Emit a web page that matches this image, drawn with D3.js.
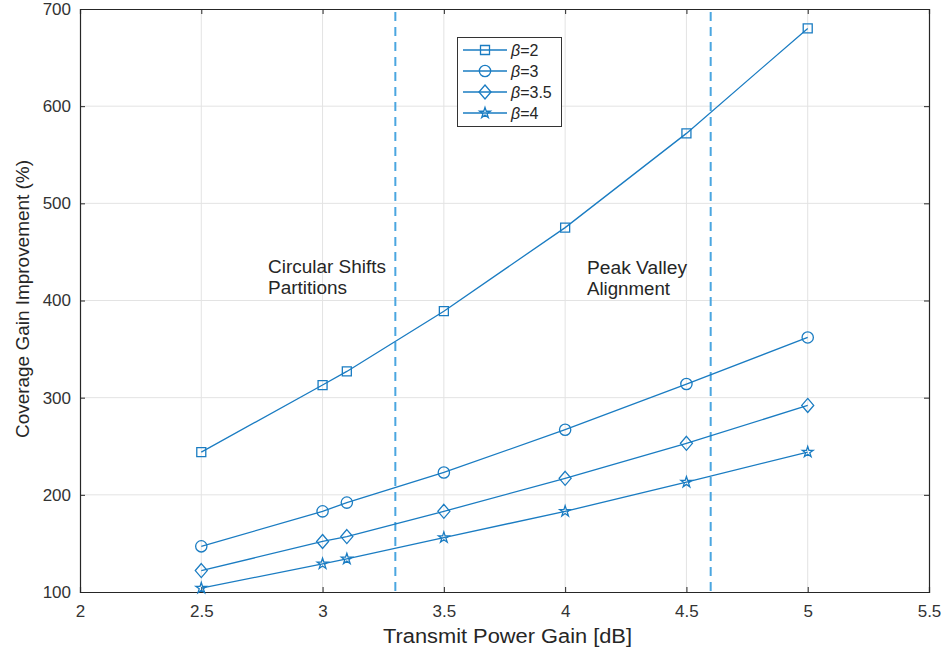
<!DOCTYPE html>
<html>
<head>
<meta charset="utf-8">
<script src="https://cdn.jsdelivr.net/npm/d3@7"></script>
<style>
  html, body { margin: 0; padding: 0; background: #fff; }
  svg { display: block; font-family: "Liberation Sans", Arial, sans-serif; }
</style>
</head>
<body>
<svg id="chart" width="944" height="650"></svg>
<script>
// Transmit power gain samples (dB)
const powerGain = [2.5, 3, 3.1, 3.5, 4, 4.5, 5];
// Coverage gain improvement (%) per path-loss exponent
const beta2   = [244, 313, 327, 389, 475, 572, 680];
const beta3   = [147, 183, 192, 223, 267, 314, 362];
const beta35  = [122, 152, 157, 183, 217, 253, 292];
const beta4   = [104, 129, 134, 156, 183, 213, 244];
const seriesLabels = ["2", "3", "3.5", "4"];
const seriesMarkers = ["square", "circle", "diamond", "star"];
// Region boundaries (dB)
const boundaries = [3.3, 4.6];
const xTicks = [2, 2.5, 3, 3.5, 4, 4.5, 5, 5.5];
const yTicks = [100, 200, 300, 400, 500, 600, 700];

const seriesValues = [beta2, beta3, beta35, beta4];

const svg = d3.select("#chart");
const plotLeft = 80, plotRight = 929, plotTop = 9, plotBottom = 592;
const x = d3.scaleLinear().domain([2, 5.5]).range([plotLeft, plotRight]);
const y = d3.scaleLinear().domain([100, 700]).range([plotBottom, plotTop]);

const lineColor = "#1a7cc2";
const textColor = "#262626";
const axisColor = "#262626";

// grid
const grid = svg.append("g");
grid.selectAll("line.gx").data(xTicks.slice(1, -1)).enter().append("line")
  .attr("x1", d => x(d)).attr("x2", d => x(d)).attr("y1", plotTop).attr("y2", plotBottom)
  .attr("stroke", "#e3e3e3").attr("stroke-width", 1);
grid.selectAll("line.gy").data(yTicks.slice(1, -1)).enter().append("line")
  .attr("y1", d => y(d)).attr("y2", d => y(d)).attr("x1", plotLeft).attr("x2", plotRight)
  .attr("stroke", "#e3e3e3").attr("stroke-width", 1);

// axes (ticks point inward)
const xAxis = svg.append("g").attr("transform", `translate(0,${plotBottom})`)
  .call(d3.axisBottom(x).tickValues(xTicks).tickSize(-5).tickPadding(13).tickFormat(d3.format("")));
const xAxisTop = svg.append("g").attr("transform", `translate(0,${plotTop})`)
  .call(d3.axisTop(x).tickValues(xTicks).tickSize(-5).tickFormat(""));
const yAxis = svg.append("g").attr("transform", `translate(${plotLeft},0)`)
  .call(d3.axisLeft(y).tickValues(yTicks).tickSize(-5).tickPadding(9));
const yAxisRight = svg.append("g").attr("transform", `translate(${plotRight},0)`)
  .call(d3.axisRight(y).tickValues(yTicks).tickSize(-5).tickFormat(""));
[xAxis, xAxisTop, yAxis, yAxisRight].forEach(g => {
  g.select(".domain").attr("stroke", axisColor).attr("stroke-width", 1.2);
  g.selectAll(".tick line").attr("stroke", axisColor).attr("stroke-width", 1);
  g.selectAll(".tick text").attr("fill", "#333").attr("font-size", 17)
    .attr("font-family", "Liberation Sans, Arial, sans-serif");
});

// dashed region boundaries
svg.append("g").selectAll("line").data(boundaries).enter().append("line")
  .attr("x1", d => x(d)).attr("x2", d => x(d)).attr("y1", plotTop + 3).attr("y2", plotBottom)
  .attr("stroke", "#4ba6e0").attr("stroke-width", 2).attr("stroke-dasharray", "9,6");

// markers
function markerPath(kind) {
  if (kind === "square") return "M-4.5,-4.5H4.5V4.5H-4.5Z";
  if (kind === "circle") return d3.symbol(d3.symbolCircle, 100)();
  if (kind === "diamond") return "M0,-7L6,0L0,7L-6,0Z";
  return d3.symbol(d3.symbolStar, 36)();
}

const line = d3.line().x(d => x(d[0])).y(d => y(d[1]));
seriesValues.forEach((vals, i) => {
  const pts = powerGain.map((g, j) => [g, vals[j]]);
  svg.append("path").datum(pts).attr("d", line)
    .attr("fill", "none").attr("stroke", lineColor).attr("stroke-width", 1.3);
  svg.append("g").selectAll("path").data(pts).enter().append("path")
    .attr("d", markerPath(seriesMarkers[i]))
    .attr("transform", d => `translate(${x(d[0])},${y(d[1])})`)
    .attr("fill", "none").attr("stroke", lineColor).attr("stroke-width", 1.3);
});

// annotations
const ann = svg.append("g").attr("fill", textColor).attr("font-size", 17.5)
  .attr("lengthAdjust", "spacingAndGlyphs");
function note(tx, ty, str, len) {
  ann.append("text").attr("x", tx).attr("y", ty)
    .attr("textLength", len).attr("lengthAdjust", "spacingAndGlyphs").text(str);
}
note(268, 273, "Circular Shifts", 118);
note(268, 294, "Partitions", 79);
note(587, 274, "Peak Valley", 100);
note(587, 295, "Alignment", 83);

// legend
const lg = svg.append("g");
lg.append("rect").attr("x", 457.5).attr("y", 37.5).attr("width", 104).attr("height", 89)
  .attr("fill", "#fff").attr("stroke", "#333").attr("stroke-width", 1);
seriesLabels.forEach((lab, i) => {
  const cy = 50 + i * 21;
  lg.append("line").attr("x1", 463).attr("x2", 507).attr("y1", cy).attr("y2", cy)
    .attr("stroke", lineColor).attr("stroke-width", 1.3);
  lg.append("path").attr("d", markerPath(seriesMarkers[i]))
    .attr("transform", `translate(485,${cy})`)
    .attr("fill", "none").attr("stroke", lineColor).attr("stroke-width", 1.3);
  const t = lg.append("text").attr("x", 511).attr("y", cy + 6)
    .attr("font-size", 16).attr("fill", textColor);
  t.append("tspan").attr("font-style", "italic").text("β");
  t.append("tspan").text("=" + lab);
});

// axis titles
svg.append("text").attr("x", 383).attr("y", 643)
  .attr("font-size", 19.5).attr("fill", textColor)
  .attr("textLength", 249).attr("lengthAdjust", "spacingAndGlyphs")
  .text("Transmit Power Gain [dB]");
svg.append("text").attr("transform", `translate(29,438) rotate(-90)`)
  .attr("font-size", 19).attr("fill", textColor)
  .attr("textLength", 278).attr("lengthAdjust", "spacingAndGlyphs")
  .text("Coverage Gain Improvement (%)");
</script>
</body>
</html>
